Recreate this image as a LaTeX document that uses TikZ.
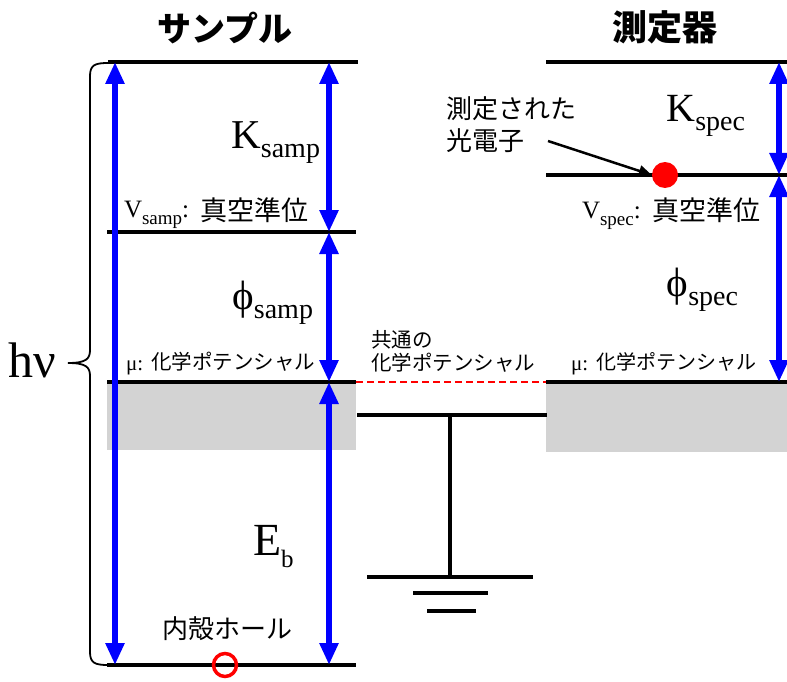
\documentclass[tikz,border=0pt]{standalone}
\usepackage{fontspec}
\setmainfont{Liberation Serif}
\newfontfamily\jp{Noto Sans CJK JP}
\usetikzlibrary{arrows.meta}
\definecolor{bandgray}{RGB}{211,211,211}
\definecolor{arrblue}{RGB}{0,0,255}
\tikzset{
  level/.style={line width=4.8pt},
  gline/.style={line width=4pt},
  barrow/.style={arrblue, line width=5.5pt, {Triangle[width=18pt,length=22pt]}-{Triangle[width=18pt,length=22pt]}},
  txt/.style={inner sep=0pt, outer sep=0pt},
}
\newcommand{\fs}[1]{\fontsize{#1}{#1}\selectfont}
\begin{document}
\begin{tikzpicture}[x=1pt,y=-1pt]
\useasboundingbox (0,0) rectangle (787,682);
% bands
\fill[bandgray] (107,382) rectangle (356,450);
\fill[bandgray] (546,382) rectangle (787,452);
% coordinates
\coordinate (sTopL) at (108,62);   \coordinate (sTopR) at (358,62);
\coordinate (sVacL) at (107,232);  \coordinate (sVacR) at (356,232);
\coordinate (sFerL) at (107,382);  \coordinate (sFerR) at (356,382);
\coordinate (sBotL) at (107,665);  \coordinate (sBotR) at (356,665);
\coordinate (dTopL) at (546,62);   \coordinate (dTopR) at (787,62);
\coordinate (dVacL) at (546,175);  \coordinate (dVacR) at (787,175);
\coordinate (dFerL) at (546,382);  \coordinate (dFerR) at (787,382);
% levels
\draw[level] (sTopL) -- (sTopR);
\draw[level] (sVacL) -- (sVacR);
\draw[level] (sFerL) -- (sFerR);
\draw[level] (sBotL) -- (sBotR);
\draw[level] (dTopL) -- (dTopR);
\draw[level] (dVacL) -- (dVacR);
\draw[level] (dFerL) -- (dFerR);
% common chemical potential
\draw[red, line width=2pt, dash pattern=on 7pt off 4pt] (sFerR) -- (dFerL);
% ground
\coordinate (gL) at (357,415); \coordinate (gR) at (547,415);
\coordinate (gTop) at (450,415); \coordinate (gBot) at (450,577);
\draw[gline] (gL) -- (gR);
\draw[line width=3.5pt] (gTop) -- (gBot);
\coordinate (g1L) at (367,577); \coordinate (g1R) at (533,577);
\coordinate (g2L) at (413,593); \coordinate (g2R) at (488,593);
\coordinate (g3L) at (427,611); \coordinate (g3R) at (476,611);
\draw[gline] (g1L) -- (g1R);
\draw[gline] (g2L) -- (g2R);
\draw[gline] (g3L) -- (g3R);
% blue arrows
\coordinate (hvTop) at (115,62); \coordinate (hvBot) at (115,665);
\coordinate (kA) at (329,62); \coordinate (kB) at (329,232);
\coordinate (pA) at (329,232); \coordinate (pB) at (329,382);
\coordinate (eA) at (329,382); \coordinate (eB) at (329,665);
\coordinate (ksA) at (779,62); \coordinate (ksB) at (779,175);
\coordinate (psA) at (779,175); \coordinate (psB) at (779,382);
\draw[barrow] (hvTop) -- (hvBot);
\draw[barrow] (kA) -- (kB);
\draw[barrow] (pA) -- (pB);
\draw[barrow] (eA) -- (eB);
\draw[barrow] (ksA) -- (ksB);
\draw[barrow] (psA) -- (psB);
% brace
\coordinate (brTip) at (68,363);
\draw[line width=1.8pt] (108,63) .. controls (95,63) and (90,65) .. (90,76) -- (90,350) .. controls (90,359) and (86,363) .. (brTip);
\draw[line width=1.8pt] (108,665) .. controls (95,665) and (90,663) .. (90,652) -- (90,376) .. controls (90,367) and (86,363) .. (brTip);
% hole and photoelectron
\node[circle, draw=red, line width=3.5pt, minimum size=23pt, inner sep=0pt] (hole) at (225,665) {};
\node[circle, fill=red, minimum size=26pt, inner sep=0pt] (pe) at (665,175) {};
% titles
\node[txt] (t1) at (225,28) {\jp\bfseries\fs{34}サンプル};
\node[txt] (t2) at (665,27) {\jp\bfseries\fs{35}測定器};
% labels
\node[txt, anchor=base west] (hv) at (9,377) {\fs{50}hν};
\node[txt, anchor=base east] (ks) at (320,149) {\fs{41}K\raisebox{-9pt}{\fs{28}samp}};
\node[txt, anchor=base west] (vs) at (124,217) {\fs{25}V\raisebox{-7pt}{\fs{19}samp}:};
\node[txt, anchor=west] (vsj) at (200,210) {\jp\fs{27}真空準位};
\node[txt, anchor=base east] (ps) at (313,309) {\fs{41}ϕ\raisebox{-9pt}{\fs{28}samp}};
\node[txt, anchor=base west] (mus) at (126,370) {\fs{21}μ:};
\node[txt, anchor=west] (musj) at (151,362) {\jp\fs{20.5}化学ポテンシャル};
\node[txt, anchor=base west] (eb) at (253,555) {\fs{46}E\raisebox{-12pt}{\fs{25}b}};
\node[txt, anchor=west] (holej) at (162,629) {\jp\fs{26}内殻ホール};
\node[txt, anchor=west] (c1) at (371,340) {\jp\fs{20.5}共通の};
\node[txt, anchor=west] (c2) at (371,363) {\jp\fs{20.5}化学ポテンシャル};
\node[txt, anchor=base east] (kd) at (745,122) {\fs{40}K\raisebox{-9pt}{\fs{28}spec}};
\node[txt, anchor=base west] (vd) at (582,218) {\fs{25}V\raisebox{-7pt}{\fs{19}spec}:};
\node[txt, anchor=west] (vdj) at (652,210) {\jp\fs{27}真空準位};
\node[txt, anchor=base east] (pd) at (738,296) {\fs{41}ϕ\raisebox{-9pt}{\fs{28}spec}};
\node[txt, anchor=base west] (mud) at (571,370) {\fs{21}μ:};
\node[txt, anchor=west] (mudj) at (596,362) {\jp\fs{20}化学ポテンシャル};
\node[txt, anchor=west] (pl1) at (446,109) {\jp\fs{26}測定された};
\node[txt, anchor=west] (pl2) at (446,141) {\jp\fs{26}光電子};
% pointer arrow
\coordinate (arS) at (548,141);
\draw[line width=2.5pt, -{Triangle[width=11pt,length=13pt]}] (arS) -- (pe.west);
\end{tikzpicture}
\end{document}
